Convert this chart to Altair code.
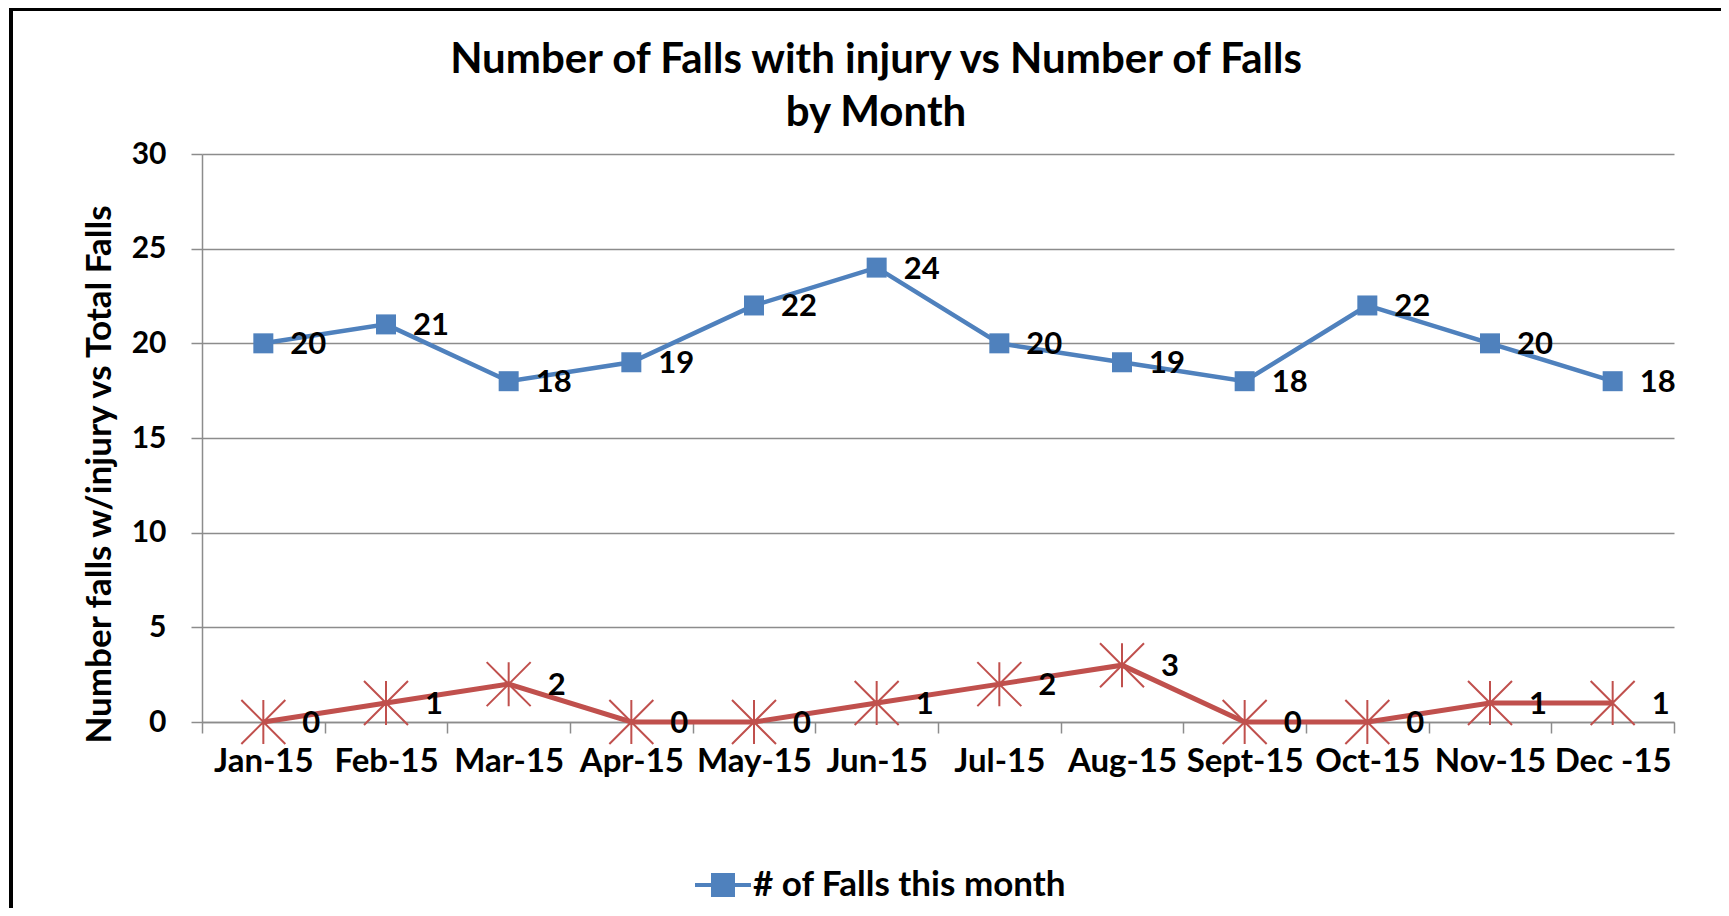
import altair as alt
import pandas as pd

# ---- data ----
months = ["Jan-15", "Feb-15", "Mar-15", "Apr-15", "May-15", "Jun-15",
          "Jul-15", "Aug-15", "Sept-15", "Oct-15", "Nov-15", "Dec -15"]
falls_total = [20, 21, 18, 19, 22, 24, 20, 19, 18, 22, 20, 18]
falls_injury = [0, 1, 2, 0, 0, 1, 2, 3, 0, 0, 1, 1]
series_total = "# of Falls this month"
y_ticks = [0, 5, 10, 15, 20, 25, 30]

title_lines = ["Number of Falls with injury vs Number of Falls", "by Month"]
y_title = "Number falls w/injury vs Total Falls"

BLUE = "#4F81BD"
RED = "#C0504D"
GRID = "#8C8C8C"
FONT = "Lato"
W, H = 1472, 568

df = pd.DataFrame({
    "month": months,
    "total": falls_total,
    "injury": falls_injury,
    "series": [series_total] * len(months),
})

STAR = "M-1,-1L1,1M-1,1L1,-1M0,-1L0,1"
LEGEND_SYM = "M-1,0L1,0M-0.357,-0.357L0.357,-0.357L0.357,0.357L-0.357,0.357Z"

x_enc = alt.X(
    "month:N", sort=months, bandPosition=0.5,
    scale=alt.Scale(type="band", paddingInner=0, paddingOuter=0),
    axis=alt.Axis(title=None, labelAngle=0, tickBand="extent", grid=False,
                  tickSize=11, labelPadding=12, labelFontSize=33,
                  domainColor=GRID, tickColor=GRID, domainWidth=1.5, tickWidth=1.5),
)

y_scale = alt.Scale(domain=[0, 30], nice=False, zero=True)
y_axis = alt.Axis(title=y_title, values=y_ticks, grid=True, gridColor=GRID, gridWidth=1.5,
                  tickSize=11, labelPadding=25, labelFontSize=30,
                  domainColor=GRID, tickColor=GRID, domainWidth=1.5, tickWidth=1.5,
                  titleFontSize=35, titleX=-103, titleY=320, titleBaseline="middle",
                  titleAngle=270, titleAlign="center")

base = alt.Chart(df)

total_line = base.mark_line(color=BLUE, strokeWidth=4.5).encode(
    x=x_enc, y=alt.Y("total:Q", scale=y_scale, axis=y_axis))

total_pts = base.mark_point(shape="square", filled=True, size=400, opacity=1).encode(
    x=x_enc, y=alt.Y("total:Q", scale=y_scale),
    color=alt.Color("series:N", scale=alt.Scale(domain=[series_total], range=[BLUE]),
                    legend=alt.Legend(title=None, orient="none", legendX=491, legendY=701,
                                      symbolType=LEGEND_SYM, symbolSize=3136,
                                      symbolFillColor=BLUE, symbolStrokeColor=BLUE,
                                      symbolStrokeWidth=4, labelFontSize=35, labelOffset=0,
                                      labelLimit=0, labelFont=FONT, labelFontWeight="bold",
                                      labelColor="black", padding=0)))

total_txt = base.mark_text(align="left", baseline="middle", dx=27, dy=2, font=FONT,
                           fontWeight="bold", fontSize=31, color="black").encode(
    x=x_enc, y=alt.Y("total:Q", scale=y_scale), text="total:Q")

inj_line = base.mark_line(color=RED, strokeWidth=5).encode(
    x=x_enc, y=alt.Y("injury:Q", scale=y_scale))

inj_pts = base.mark_point(shape=STAR, filled=False, size=1936, stroke=RED, strokeWidth=2,
                          opacity=1).encode(
    x=x_enc, y=alt.Y("injury:Q", scale=y_scale))

inj_txt = base.mark_text(align="left", baseline="middle", dx=39, dy=2, font=FONT,
                         fontWeight="bold", fontSize=31, color="black").encode(
    x=x_enc, y=alt.Y("injury:Q", scale=y_scale), text="injury:Q")

frame_df = pd.DataFrame({"k": [0]})
frame_left = alt.Chart(frame_df).mark_rule(color="black", strokeWidth=4).encode(
    x=alt.value(-191), y=alt.value(-150), y2=alt.value(H + 200))
frame_top = alt.Chart(frame_df).mark_rule(color="black", strokeWidth=4).encode(
    x=alt.value(-193), x2=alt.value(W + 100), y=alt.value(-145))

chart = alt.layer(
    frame_left, frame_top,
    total_line, inj_line, total_pts, inj_pts, total_txt, inj_txt,
).properties(
    width=W, height=H,
    title=alt.Title(text=title_lines, fontSize=42, font=FONT, fontWeight="bold",
                    anchor="middle", frame="group", dx=-62, dy=196, lineHeight=53,
                    baseline="alphabetic", offset=30, color="black"),
    autosize=alt.AutoSizeParams(type="none"),
    padding={"left": 194, "top": 146, "right": 47, "bottom": 186},
).configure_axis(
    labelFont=FONT, titleFont=FONT, labelFontWeight="bold", titleFontWeight="bold",
    labelColor="black", titleColor="black",
).configure_view(stroke=None)

chart.save("out.html", embed_options={"renderer": "svg", "actions": False})
